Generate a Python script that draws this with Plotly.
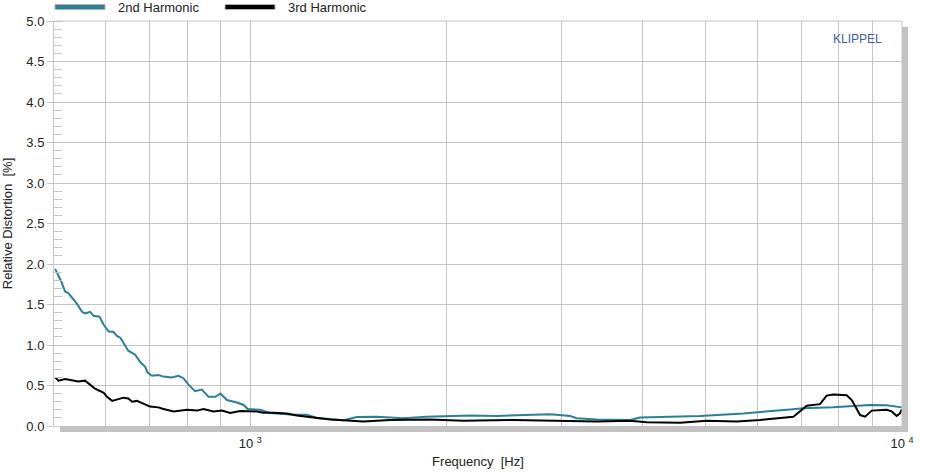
import plotly.graph_objects as go

# ---- data ----
freq_2nd = [502, 512, 520, 526, 542, 552, 558, 568, 575, 587, 596, 606, 617, 625, 632, 643, 650,
            666, 678, 690, 696, 707, 723, 736, 758, 776, 790, 804, 823, 843, 863, 884, 900, 921,
            954, 977, 991, 1036, 1073, 1165, 1222, 1266, 1390, 1458, 1564, 1717, 1866, 2175, 2389,
            2885, 3096, 3170, 3403, 3827, 3964, 4900, 5710, 6733, 7058, 7845, 8932, 9474, 9990]
dist_2nd = [1.94, 1.80, 1.66, 1.64, 1.51, 1.41, 1.39, 1.41, 1.36, 1.35, 1.25, 1.17, 1.16, 1.11, 1.09,
            0.98, 0.93, 0.88, 0.79, 0.73, 0.66, 0.62, 0.63, 0.61, 0.60, 0.62, 0.59, 0.51, 0.43, 0.45,
            0.36, 0.36, 0.40, 0.32, 0.29, 0.26, 0.21, 0.20, 0.16, 0.14, 0.14, 0.10, 0.07, 0.11, 0.115,
            0.095, 0.115, 0.13, 0.125, 0.145, 0.125, 0.095, 0.08, 0.075, 0.105, 0.125, 0.155, 0.205,
            0.22, 0.23, 0.26, 0.255, 0.23]

freq_3rd = [502, 508, 520, 536, 545, 558, 568, 578, 596, 603, 614, 625, 639, 650, 659, 670, 686, 702,
            723, 736, 763, 800, 829, 848, 878, 905, 932, 965, 1024, 1048, 1086, 1138, 1179, 1266,
            1327, 1492, 1639, 1888, 2124, 2534, 3024, 3403, 3827, 4059, 4565, 5016, 5577, 6057,
            6813, 6976, 7142, 7484, 7664, 7845, 8226, 8374, 8472, 8624, 8777, 8985, 9474, 9643,
            9815, 9929, 9990]
dist_3rd = [0.60, 0.56, 0.58, 0.56, 0.55, 0.56, 0.51, 0.46, 0.41, 0.36, 0.31, 0.33, 0.35, 0.34, 0.30,
            0.31, 0.27, 0.24, 0.23, 0.21, 0.18, 0.20, 0.19, 0.21, 0.18, 0.19, 0.16, 0.185, 0.18, 0.165,
            0.165, 0.155, 0.13, 0.095, 0.08, 0.055, 0.075, 0.08, 0.065, 0.075, 0.06, 0.055, 0.065,
            0.045, 0.04, 0.065, 0.055, 0.075, 0.115, 0.185, 0.25, 0.27, 0.375, 0.39, 0.38, 0.32,
            0.24, 0.135, 0.115, 0.19, 0.2, 0.18, 0.125, 0.155, 0.205]

series_names = ["2nd Harmonic", "3rd Harmonic"]
series_colors = ["#2b7f97", "#000000"]

x_tick_vals = [1000, 10000]
x_tick_text = ["10 <sup>3</sup>", "10 <sup>4</sup>"]
x_minor_grid = [500, 600, 700, 800, 900, 2000, 3000, 4000, 5000, 6000, 7000, 8000, 9000]
y_tick_vals = [0.0, 0.5, 1.0, 1.5, 2.0, 2.5, 3.0, 3.5, 4.0, 4.5, 5.0]
y_tick_text = ["0.0", "0.5", "1.0", "1.5", "2.0", "2.5", "3.0", "3.5", "4.0", "4.5", "5.0"]

GRID = "#c4c4c4"
FONT = "Liberation Sans, Arial, sans-serif"

fig = go.Figure()
fig.add_trace(go.Scatter(x=freq_2nd, y=dist_2nd, mode="lines", name=series_names[0],
                         line=dict(color=series_colors[0], width=2), showlegend=False))
fig.add_trace(go.Scatter(x=freq_3rd, y=dist_3rd, mode="lines", name=series_names[1],
                         line=dict(color=series_colors[1], width=2), showlegend=False))

W, H = 936, 475
L, R, T, B = 54, 34, 21, 49
pw, ph = W - L - R, H - T - B

def px(xp):
    return (xp - L) / pw

def py(yp):
    return (H - B - yp) / ph

shapes = [
    # drop shadow of the plot frame
    dict(type="rect", xref="paper", yref="paper", x0=px(60), x1=px(908), y0=py(432), y1=py(426),
         fillcolor="#c3c3c3", line=dict(width=0), layer="below"),
    dict(type="rect", xref="paper", yref="paper", x0=px(902), x1=px(908), y0=py(432), y1=py(27),
         fillcolor="#c3c3c3", line=dict(width=0), layer="below"),
    # frame lines
    dict(type="line", xref="paper", yref="paper", x0=0, x1=1, y0=1, y1=1, line=dict(color=GRID, width=1)),
    dict(type="line", xref="paper", yref="paper", x0=1, x1=1, y0=0, y1=1, line=dict(color=GRID, width=1)),
]
# legend samples
leg_x = [(55, 105), (225, 275)]
for (a, b), c in zip(leg_x, series_colors):
    shapes.append(dict(type="rect", xref="paper", yref="paper", x0=px(a), x1=px(b), y0=py(9.5), y1=py(4.5),
                       fillcolor=c, line=dict(color="#b0b0b0", width=1)))

annotations = [
    dict(text="KLIPPEL", xref="paper", yref="paper", x=px(857), y=py(39), xanchor="center", yanchor="middle",
         showarrow=False, font=dict(family=FONT, size=12, color="#3d5ea8")),
]
for xx, name in zip([116, 286], series_names):
    annotations.append(dict(text=name, xref="paper", yref="paper", x=px(xx), y=py(7), xanchor="left",
                            yanchor="middle", showarrow=False, font=dict(family=FONT, size=13, color="#222")))

fig.update_layout(
    width=W, height=H,
    margin=dict(l=L, r=R, t=T, b=B, autoexpand=False),
    paper_bgcolor="white", plot_bgcolor="white",
    font=dict(family=FONT, size=13, color="#222"),
    shapes=shapes, annotations=annotations,
    showlegend=False,
    xaxis=dict(type="log", range=[2.69897, 4.0], tickvals=x_tick_vals, ticktext=x_tick_text,
               showgrid=True, gridcolor=GRID, gridwidth=1, zeroline=False, ticks="",
               minor=dict(tickvals=x_minor_grid, showgrid=True, gridcolor=GRID, gridwidth=1, ticks=""),
               showline=False, ticklabelstandoff=8, automargin=False,
               tickfont=dict(family=FONT, size=13, color="#222"),
               title=dict(text="Frequency  [Hz]", standoff=6, font=dict(family=FONT, size=13, color="#222"))),
    yaxis=dict(range=[0, 5], tickvals=y_tick_vals, ticktext=y_tick_text, automargin=False,
               showgrid=True, gridcolor=GRID, gridwidth=1, zeroline=False,
               ticks="outside", ticklen=6, tickcolor=GRID, showline=True, linecolor=GRID, linewidth=1,
               minor=dict(ticks="inside", dtick=0.1, ticklen=8, tickcolor=GRID, showgrid=False),
               tickfont=dict(family=FONT, size=13, color="#222"),
               title=dict(text="Relative Distortion  [%]", standoff=10, font=dict(family=FONT, size=13, color="#222"))),
)

fig.write_html("out.html", config={"displayModeBar": False},
               post_script="document.body.style.margin='0';document.body.style.overflow='hidden';")
